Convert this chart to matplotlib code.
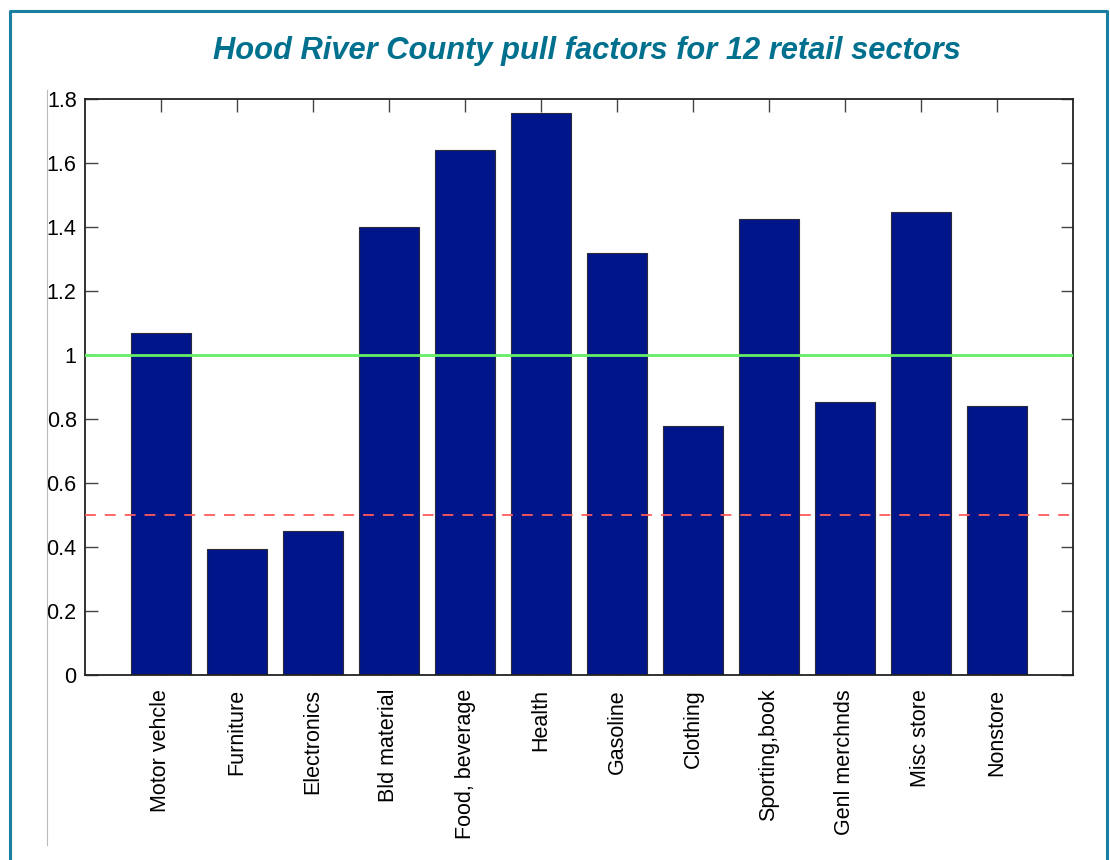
import matplotlib
matplotlib.use("Agg")
import matplotlib.pyplot as plt
from matplotlib.lines import Line2D

# sectors and pull factors
sectores = ["Motor vehcle", "Furniture", "Electronics", "Bld material",
            "Food, beverage", "Health", "Gasoline", "Clothing",
            "Sporting,book", "Genl merchnds", "Misc store", "Nonstore"]
pull_factors = [1.07, 0.395, 0.45, 1.40, 1.64, 1.755, 1.318, 0.778,
                1.425, 0.853, 1.447, 0.842]
y_ticks = [0, 0.2, 0.4, 0.6, 0.8, 1, 1.2, 1.4, 1.6, 1.8]
y_labels = ["0", "0.2", "0.4", "0.6", "0.8", "1", "1.2", "1.4", "1.6", "1.8"]
linha_verde = 1.0
linha_vermelha = 0.5

plt.rcParams['font.family'] = ['Liberation Sans', 'DejaVu Sans']

fig = plt.figure(figsize=(11.1, 8.6), dpi=100)
ax = fig.add_axes([85/1110, 1 - 675/860, (1073 - 85)/1110, (675 - 99)/860])

posicoes = list(range(1, len(sectores) + 1))
ax.bar(posicoes, pull_factors, width=0.8, color="#001589",
       edgecolor="#2a2a3e", linewidth=0.8, zorder=2)

ax.axhline(linha_verde, color="#66ee66", linewidth=2, zorder=3)
ax.axhline(linha_vermelha, color="#ff5a5a", linewidth=1.3,
           linestyle=(0, (6, 5)), zorder=3)

ax.set_xlim(0, 13)
ax.set_ylim(0, 1.8)
ax.set_xticks(posicoes)
ax.set_xticklabels(sectores, rotation=90, fontsize=15.5)
ax.set_yticks(y_ticks)
ax.set_yticklabels(y_labels, fontsize=15.5)
ax.tick_params(direction="in", length=9, width=1, top=True, right=True,
               color="#444444")
ax.tick_params(axis="x", pad=10)
ax.tick_params(axis="y", pad=6)
for lado in ax.spines.values():
    lado.set_linewidth(1.3)
    lado.set_color("#222222")

# titulo
fig.text(587/1110, 1 - 51/860, "Hood River County pull factors for 12 retail sectors",
         ha="center", va="center", fontsize=22.2, fontstyle="italic",
         fontweight="bold", color="#00708f")

# moldura e linha cinza
fig.add_artist(Line2D([10/1110, 10/1110, 1107/1110, 1107/1110],
                      [0, 1 - 11/860, 1 - 11/860, 0],
                      color="#1a7fa0", linewidth=2.2))
fig.add_artist(Line2D([47/1110, 47/1110], [1 - 90/860, 1 - 845/860],
                      color="#bbbbbb", linewidth=0.8))

fig.savefig("out.png", dpi=100)
